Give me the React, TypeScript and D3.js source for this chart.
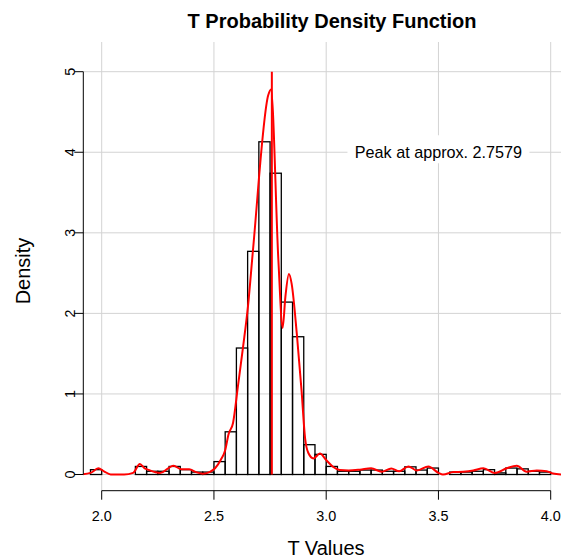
import React, { useRef, useEffect } from 'react';
import * as d3 from 'd3';

// histogram bins (left edges) and their density heights
const binStart = [
  1.95, 2.0, 2.05, 2.1, 2.15, 2.2, 2.25, 2.3, 2.35, 2.4, 2.45, 2.5, 2.55, 2.6,
  2.65, 2.7, 2.75, 2.8, 2.85, 2.9, 2.95, 3.0, 3.05, 3.1, 3.15, 3.2, 3.25, 3.3,
  3.35, 3.4, 3.45, 3.5, 3.55, 3.6, 3.65, 3.7, 3.75, 3.8, 3.85, 3.9, 3.95,
];
const binDensity = [
  0.06, 0, 0, 0, 0.1, 0.04, 0.04, 0.1, 0.06, 0.03, 0.03, 0.16, 0.53, 1.57,
  2.77, 4.13, 3.74, 2.14, 1.71, 0.37, 0.25, 0.1, 0.04, 0.04, 0.055, 0.055, 0.04,
  0.04, 0.095, 0.055, 0.08, 0, 0.03, 0.03, 0.04, 0.06, 0.02, 0.08, 0.07, 0.04,
  0.03,
];
const binWidth = 0.05;

// kernel density estimate (red curve)
const densityX = [
  1.9, 1.95, 1.985, 2.01, 2.04, 2.1, 2.14, 2.17, 2.19, 2.21, 2.26, 2.32, 2.355,
  2.39, 2.42, 2.45, 2.48, 2.505, 2.53, 2.55, 2.565, 2.585, 2.607, 2.63, 2.652,
  2.674, 2.742, 2.754, 2.787, 2.806, 2.818, 2.834, 2.846, 2.869, 2.89, 2.906,
  2.92, 2.943, 2.972, 3.0, 3.03, 3.06, 3.1, 3.15, 3.2, 3.247, 3.29, 3.325,
  3.366, 3.405, 3.455, 3.5, 3.52, 3.566, 3.61, 3.655, 3.7, 3.752, 3.804, 3.849,
  3.893, 3.938, 3.982, 4.01, 4.05,
];
const densityY = [
  0, 0.02, 0.077, 0.04, 0, 0, 0.02, 0.13, 0.08, 0.056, 0.02, 0.11, 0.065,
  0.065, 0.03, 0.01, 0.03, 0.077, 0.18, 0.3, 0.5, 0.64, 1.1, 1.59, 2.1,
  2.79, 4.71, 4.78, 2.66, 1.82, 2.2, 2.49, 2.37, 1.75, 1.05, 0.45,
  0.27, 0.2, 0.26, 0.18, 0.097, 0.056, 0.05, 0.06, 0.077, 0.035, 0.075, 0.04,
  0.1, 0.05, 0.1, 0.02, 0, 0.03, 0.035, 0.05, 0.077, 0.018, 0.077, 0.11,
  0.035, 0.05, 0.04, 0.012, 0,
];

const peakT = 2.7579;
const xTicks = [2.0, 2.5, 3.0, 3.5, 4.0];
const yTicks = [0, 1, 2, 3, 4, 5];

export default function App() {
  const svgRef = useRef<SVGSVGElement>(null);
  const width = 561;
  const height = 559;

  useEffect(() => {
    const svg = d3.select(svgRef.current);
    svg.selectAll('*').remove();

    const plotLeft = 83.3;
    const plotRight = 561;
    const plotTop = 42;
    const plotBottom = 490.7;

    const x = d3.scaleLinear().domain([2, 4]).range([101.7, 550.7]);
    const y = d3.scaleLinear().domain([0, 5]).range([474.5, 71.7]);

    const font = '"Liberation Sans", Arial, Helvetica, sans-serif';

    svg
      .append('defs')
      .append('clipPath')
      .attr('id', 'plotclip')
      .append('rect')
      .attr('x', plotLeft)
      .attr('y', plotTop)
      .attr('width', plotRight - plotLeft)
      .attr('height', plotBottom - plotTop);

    // grid
    const grid = svg.append('g').attr('stroke', '#d3d3d3').attr('stroke-width', 1);
    xTicks.forEach(t => {
      grid.append('line')
        .attr('x1', x(t)).attr('x2', x(t))
        .attr('y1', plotTop).attr('y2', plotBottom);
    });
    yTicks.forEach(t => {
      grid.append('line')
        .attr('x1', plotLeft).attr('x2', plotRight)
        .attr('y1', y(t)).attr('y2', y(t));
    });

    // histogram bars
    svg.append('g')
      .selectAll('rect')
      .data(binStart.map((s, i) => ({ s, d: binDensity[i] })))
      .enter()
      .append('rect')
      .attr('x', d => x(d.s))
      .attr('width', d => x(d.s + binWidth) - x(d.s))
      .attr('y', d => y(d.d))
      .attr('height', d => y(0) - y(d.d))
      .attr('fill', 'none')
      .attr('stroke', '#000')
      .attr('stroke-width', 1.3);

    // density curve
    const line = d3.line<number>()
      .x((_, i) => x(densityX[i]))
      .y(d => y(d))
      .curve(d3.curveMonotoneX);
    svg.append('path')
      .attr('clip-path', 'url(#plotclip)')
      .attr('d', line(densityY))
      .attr('fill', 'none')
      .attr('stroke', '#ff0000')
      .attr('stroke-width', 2);

    // peak marker
    svg.append('line')
      .attr('x1', x(peakT)).attr('x2', x(peakT))
      .attr('y1', y(0)).attr('y2', y(5))
      .attr('stroke', '#ff0000')
      .attr('stroke-width', 2);

    // peak annotation
    svg.append('rect')
      .attr('x', x(3.5) - 91)
      .attr('y', y(4) - 17)
      .attr('width', 182)
      .attr('height', 28)
      .attr('fill', '#fff');
    svg.append('text')
      .attr('x', x(3.5))
      .attr('y', y(4) + 6)
      .attr('text-anchor', 'middle')
      .attr('font-family', font)
      .attr('font-size', 16.2)
      .text(`Peak at approx. ${peakT}`);

    // x axis
    const xa = svg.append('g').attr('stroke', '#000').attr('stroke-width', 1);
    xa.append('line')
      .attr('x1', x(2)).attr('x2', x(4))
      .attr('y1', plotBottom).attr('y2', plotBottom);
    xTicks.forEach(t => {
      xa.append('line')
        .attr('x1', x(t)).attr('x2', x(t))
        .attr('y1', plotBottom).attr('y2', plotBottom + 9);
      svg.append('text')
        .attr('x', x(t))
        .attr('y', 521)
        .attr('text-anchor', 'middle')
        .attr('font-family', font)
        .attr('font-size', 14.4)
        .text(d3.format('.1f')(t));
    });

    // y axis
    const ya = svg.append('g').attr('stroke', '#000').attr('stroke-width', 1);
    ya.append('line')
      .attr('x1', plotLeft).attr('x2', plotLeft)
      .attr('y1', y(0)).attr('y2', y(5));
    yTicks.forEach(t => {
      ya.append('line')
        .attr('x1', plotLeft - 9).attr('x2', plotLeft)
        .attr('y1', y(t)).attr('y2', y(t));
      svg.append('text')
        .attr('transform', `translate(75,${y(t)}) rotate(-90)`)
        .attr('text-anchor', 'middle')
        .attr('font-family', font)
        .attr('font-size', 14.4)
        .text(t);
    });

    // titles
    svg.append('text')
      .attr('x', 332)
      .attr('y', 27.5)
      .attr('text-anchor', 'middle')
      .attr('font-family', font)
      .attr('font-weight', 'bold')
      .attr('font-size', 20)
      .text('T Probability Density Function');
    svg.append('text')
      .attr('x', 326)
      .attr('y', 555)
      .attr('text-anchor', 'middle')
      .attr('font-family', font)
      .attr('font-size', 20)
      .text('T Values');
    svg.append('text')
      .attr('transform', 'translate(30,271) rotate(-90)')
      .attr('text-anchor', 'middle')
      .attr('font-family', font)
      .attr('font-size', 20)
      .text('Density');
  }, []);

  return (
    <svg
      ref={svgRef}
      width={width}
      height={height}
      style={{ position: 'absolute', left: 0, top: 0, background: '#fff' }}
    />
  );
}
